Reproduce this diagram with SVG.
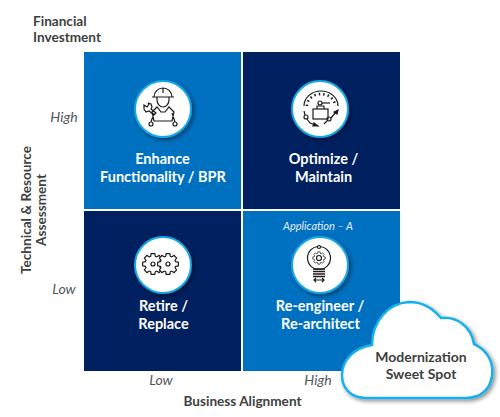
<svg xmlns="http://www.w3.org/2000/svg" width="500" height="417" viewBox="0 0 500 417">
<style>
text{font-family:Lato,"Noto Sans",sans-serif}
.ax{font-size:13.600px;font-weight:700;fill:#3f3f41;text-anchor:middle}
.st{text-anchor:start}
.lv{font-size:14px;font-style:italic;fill:#55565a;text-anchor:middle}
.q{font-size:14.500px;font-weight:700;fill:#fff;text-anchor:middle}
.ci{fill:#fff;stroke:#18a8e6;stroke-width:2;filter:url(#s)}
.ic{fill:none;stroke:#1c1c1c;stroke-width:1.2}
.b{fill:#0070c0}.d{fill:#002060}
</style>
<defs>
<filter id="s" x="-20%" y="-20%" width="150%" height="150%"><feDropShadow dx="2" dy="2" stdDeviation="2" flood-color="#000" flood-opacity=".45"/></filter>
<polygon id="gear" points="10.34,1.82 7.65,2.34 7.06,3.76 8.6,6.02 6.02,8.6 3.76,7.06 2.34,7.65 1.82,10.34 -1.82,10.34 -2.34,7.65 -3.76,7.06 -6.02,8.6 -8.6,6.02 -7.06,3.76 -7.65,2.34 -10.34,1.82 -10.34,-1.82 -7.65,-2.34 -7.06,-3.76 -8.6,-6.02 -6.02,-8.6 -3.76,-7.06 -2.34,-7.65 -1.82,-10.34 1.82,-10.34 2.34,-7.65 3.76,-7.06 6.02,-8.6 8.6,-6.02 7.06,-3.76 7.65,-2.34 10.34,-1.82"/>
</defs>
<g id="labels">
<text class="ax st" x="33" y="26">Financial</text>
<text class="ax st" x="33" y="42">Investment</text>
<text class="lv" x="64" y="122">High</text>
<text class="lv" x="64" y="294">Low</text>
<text class="lv" x="161" y="385">Low</text>
<text class="lv" x="318" y="385">High</text>
<text class="ax" x="242.500" y="406">Business Alignment</text>
<text class="ax" transform="translate(31,210) rotate(-90)">Technical &amp; Resource</text>
<text class="ax" transform="translate(46,210) rotate(-90)">Assessment</text>
</g>
<g id="q1"><rect class="b" x="84" y="52" width="157" height="157"/>
<circle class="ci" cx="163" cy="109" r="28"/>
<g class="ic">
<path d="M154 97a9 9 0 0 1 18 0zM152 97h22M163 88v5M157 97v3a6 7 0 0 0 12 0v-3"/>
<path d="M157 107l-5 5 2 9h18l2-9-5-5-4 5h-4zM154 113l-3 9M172 113l3 9"/>
<circle cx="151" cy="124" r="2"/><circle cx="175" cy="124" r="2"/>
<path d="M144 105l3 2 2-3-1-1 3 1 1 3-1 2 5 4-2 2-5-4-3 1-2-3z"/>
</g>
<text class="q" x="162.500" y="164">Enhance</text><text class="q" x="163" y="182">Functionality / BPR</text></g>
<g id="q2"><rect class="d" x="243" y="52" width="157" height="157"/>
<circle class="ci" cx="320" cy="109" r="28"/>
<g class="ic">
<path d="M304 106a17 15 0 0 1 34 0"/>
<path d="M307 106a14 12 0 0 1 28 0" stroke-dasharray="1.500 3" stroke-width="2.500"/>
<circle cx="320" cy="103" r="2"/><path d="M322 103h8"/>
<rect x="313" y="109" width="15" height="10"/><path d="M317 109v-3h7v3"/>
<circle cx="306" cy="117" r="2"/><circle cx="329" cy="119" r="2"/>
<path d="M304 111l1 4M307 119l3 4 6 2M324 124l3-3M331 118l5-6"/>
<path d="M318 126l-4-3-1 3zM338 110l-1 4-3-2z" fill="#1c1c1c"/>
</g>
<text class="q" x="323.500" y="164">Optimize /</text><text class="q" x="323.500" y="182">Maintain</text></g>
<g id="q3"><rect class="d" x="84" y="211" width="157" height="160"/>
<circle class="ci" cx="163" cy="265" r="28"/>
<g class="ic">
<use href="#gear" x="153" y="264"/><circle cx="153" cy="264" r="2"/>
<use href="#gear" x="168" y="264" fill="#fff"/><circle cx="168" cy="264" r="2"/>
</g>
<text class="q" x="163.500" y="311">Retire /</text><text class="q" x="163.500" y="329">Replace</text></g>
<g id="q4"><rect class="b" x="243" y="211" width="157" height="160"/>
<text x="318" y="230" style="font-size:11px;font-style:italic;fill:#e4eef7;text-anchor:middle">Application – A</text>
<circle class="ci" cx="320" cy="265" r="28"/>
<g class="ic">
<circle cx="319" cy="258" r="11.500"/>
<use href="#gear" transform="translate(319,258) scale(.6)"/><circle cx="319" cy="258" r="2.500"/>
<circle cx="319" cy="247" r="1.500" fill="#fff"/>
<path d="M313 269h12M313 271.500h12M313 274h12M313 276.500h12" stroke-width="1.500"/>
<path d="M314 280h10M316 278l-2 2 2 2M322 278l2 2-2 2"/>
</g>
<text class="q" x="320" y="311">Re-engineer /</text><text class="q" x="320.500" y="329">Re-architect</text></g>
<g id="cloud">
<path filter="url(#s)" fill="#fff" stroke="#18b0ee" stroke-width="2.500" d="M365 398C349 397 342 387 342 375C342 361 353 348 372 345C372 322 388 303 409 302C424 302 433 309 441 318C456 316 471 326 474 344C487 350 494 362 492 376C490 390 480 398 466 398Z"/>
<text class="ax" x="421" y="362" style="font-size:14px">Modernization</text>
<text class="ax" x="421" y="379" style="font-size:14px">Sweet Spot</text>
</g>
</svg>
